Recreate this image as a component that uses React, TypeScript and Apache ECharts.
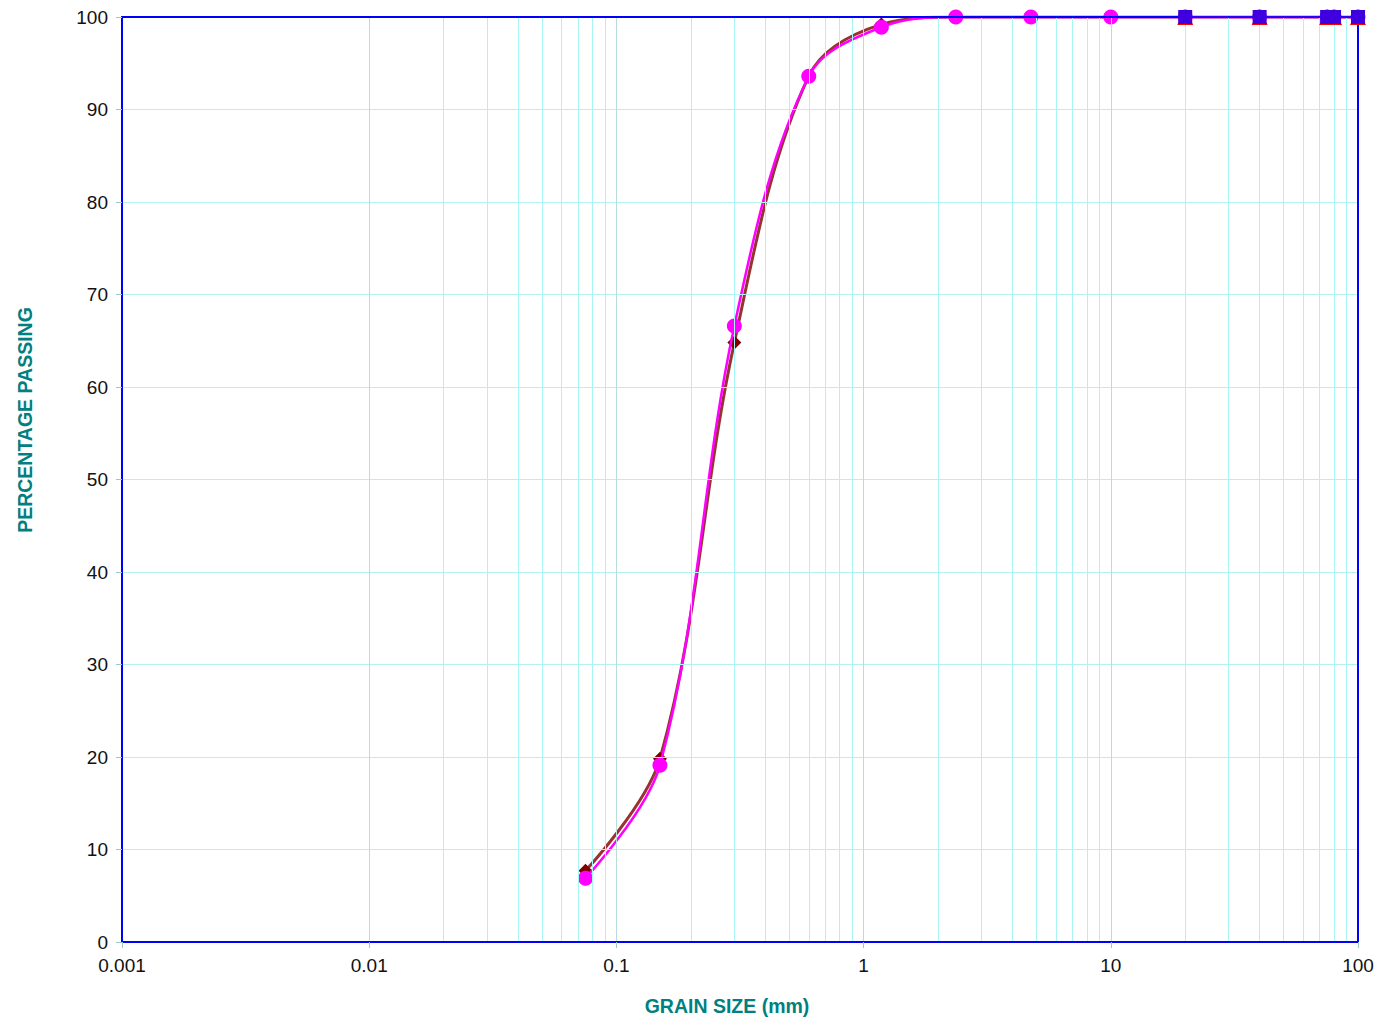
import React, { useEffect, useRef } from "react";
import * as echarts from "echarts";

const sieveSizes = [0.075, 0.15, 0.3, 0.6, 1.18, 2.36, 4.75, 10, 20, 40, 75, 80, 100];
const passingA = [7.7, 19.8, 64.8, 93.6, 99.2, 100, 100, 100, 100, 100, 100, 100, 100];
const passingB = [6.9, 19.1, 66.6, 93.6, 98.9, 100, 100, 100, 100, 100, 100, 100, 100];
const coarseSizes = [20, 40, 75, 80, 100];
const passingC = [100, 100, 100, 100, 100];
const passingD = [100, 100, 100, 100, 100];
const decades = [0.001, 0.01, 0.1, 1, 10];
const minorMultiples = [2, 3, 4, 5, 6, 7, 8, 9];

const FONT = "'Liberation Sans', Arial, Helvetica, sans-serif";
const FRAME = "#0000ff";

function pairs(xs: number[], ys: number[]) {
  return xs.map((x, i) => [x, ys[i]]);
}

export default function App() {
  const ref = useRef<HTMLDivElement>(null);
  useEffect(() => {
    if (!ref.current) return;
    const chart = echarts.init(ref.current, null, { renderer: "svg" });
    const minorLines: any[] = [];
    decades.forEach((d) =>
      minorMultiples.forEach((m) => minorLines.push({ xAxis: Number((d * m).toPrecision(6)) }))
    );
    const frameLine = { show: true, onZero: false, lineStyle: { color: FRAME, width: 2 } };
    chart.setOption({
      animation: false,
      backgroundColor: "#ffffff",
      grid: { left: 122, top: 17, right: 35, bottom: 83 },
      xAxis: [
        {
          type: "log",
          logBase: 10,
          min: 0.001,
          max: 100,
          splitNumber: 5,
          position: "bottom",
          z: 10,
          axisLine: frameLine,
          axisTick: { show: true, length: 6, lineStyle: { color: "#9cc8c8" } },
          axisLabel: {
            color: "#111",
            fontSize: 19,
            fontFamily: FONT,
            margin: 14,
            formatter: (v: number) => String(Number(v.toPrecision(6))),
          },
          splitLine: { show: true, lineStyle: { color: "#b9dcdc", width: 1 } },
        },
        {
          type: "value",
          min: 0,
          max: 1,
          position: "top",
          z: 10,
          axisLine: frameLine,
          axisTick: { show: false },
          axisLabel: { show: false },
          splitLine: { show: false },
        },
      ],
      yAxis: [
        {
          type: "value",
          min: 0,
          max: 100,
          interval: 10,
          position: "left",
          z: 10,
          axisLine: frameLine,
          axisTick: { show: true, length: 6, lineStyle: { color: "#9cc8c8" } },
          axisLabel: { color: "#111", fontSize: 19, fontFamily: FONT, margin: 14 },
          splitLine: { show: true, lineStyle: { color: "#b4f2f2", width: 1 } },
        },
        {
          type: "value",
          min: 0,
          max: 100,
          interval: 10,
          position: "right",
          z: 10,
          axisLine: frameLine,
          axisTick: { show: false },
          axisLabel: { show: false },
          splitLine: { show: false },
        },
      ],
      graphic: [
        {
          type: "text",
          x: 25,
          y: 420,
          rotation: Math.PI / 2,
          style: {
            text: "PERCENTAGE PASSING",
            fill: "#008080",
            font: `bold 19.5px ${FONT}`,
            align: "center",
            verticalAlign: "middle",
          },
        },
        {
          type: "text",
          x: 727,
          y: 1006,
          style: {
            text: "GRAIN SIZE (mm)",
            fill: "#008080",
            font: `bold 19.5px ${FONT}`,
            align: "center",
            verticalAlign: "middle",
          },
        },
      ],
      series: [
        {
          name: "grid",
          type: "line",
          data: [],
          z: 1,
          silent: true,
          markLine: {
            silent: true,
            symbol: ["none", "none"],
            label: { show: false },
            lineStyle: { color: "#a6f6f6", width: 1, type: "solid" },
            data: minorLines,
          },
        },
        {
          name: "Sample A",
          type: "line",
          data: pairs(sieveSizes, passingA),
          smooth: 0.35,
          z: 3,
          symbol: "diamond",
          symbolSize: 14,
          itemStyle: { color: "#800000" },
          lineStyle: { color: "#993333", width: 3 },
        },
        {
          name: "Sample B",
          type: "line",
          data: pairs(sieveSizes, passingB),
          smooth: 0.35,
          z: 4,
          symbol: "circle",
          symbolSize: 15,
          itemStyle: { color: "#ff00ff" },
          lineStyle: { color: "#ff00ff", width: 2.5 },
        },
        {
          name: "Sample C",
          type: "line",
          data: pairs(coarseSizes, passingC),
          z: 12,
          symbol: "triangle",
          symbolSize: 16,
          itemStyle: { color: "#ff0000" },
          lineStyle: { color: "#ff0000", width: 2 },
        },
        {
          name: "Sample D",
          type: "line",
          data: pairs(coarseSizes, passingD),
          z: 13,
          symbol: "rect",
          symbolSize: 14,
          itemStyle: { color: "#3f00e0" },
          lineStyle: { color: "#2a00ff", width: 2 },
        },
      ],
    });
    return () => chart.dispose();
  }, []);
  return (
    <div
      ref={ref}
      style={{ position: "fixed", left: 0, top: 0, width: 1393, height: 1025, background: "#fff" }}
    />
  );
}
